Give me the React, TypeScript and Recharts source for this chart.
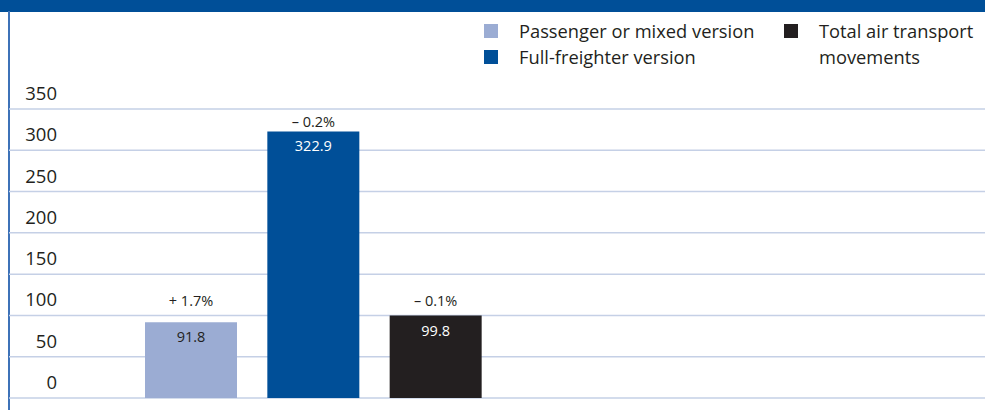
import React from "react";
import {
  BarChart,
  Bar,
  XAxis,
  YAxis,
  CartesianGrid,
  Cell,
  LabelList,
  Legend,
} from "recharts";

// chart values
const categories = [
  "Passenger or mixed version",
  "Full-freighter version",
  "Total air transport movements",
];
const values = [91.8, 322.9, 99.8];
const changes = ["+ 1.7%", "– 0.2%", "– 0.1%"];
const yTicks = [0, 50, 100, 150, 200, 250, 300, 350];

const COLORS = ["#9bacd3", "#004f98", "#231f20"];
const LABEL_COLORS = ["#231f20", "#ffffff", "#ffffff"];
const TEXT = "#231f20";
const FONT = "'Open Sans', 'Noto Sans', sans-serif";

const data = categories.map((name, i) => ({
  name,
  value: values[i],
  change: changes[i],
}));

// tick labels sit above their grid line, right-aligned
const YTick = (props: any) => {
  const { y, payload } = props;
  return (
    <text
      x={57}
      y={y - 9}
      textAnchor="end"
      fontSize={18.5}
      fill={TEXT}
      fontFamily={FONT}
    >
      {payload.value}
    </text>
  );
};

const ValueLabel = (props: any) => {
  const { x, y, width, index, value } = props;
  return (
    <text
      x={x + width / 2}
      y={y + 20}
      textAnchor="middle"
      fontSize={14.5}
      fill={LABEL_COLORS[index]}
      fontFamily={FONT}
    >
      {value}
    </text>
  );
};

// short bars get their label lined up just above the 100 line
const ChangeLabel = (props: any) => {
  const { x, y, width, height, index, value } = props;
  const unit = height / values[index];
  const line100 = y + height - 100 * unit;
  const base = Math.min(y - 4, line100 - 9);
  return (
    <text
      x={x + width / 2}
      y={base}
      textAnchor="middle"
      fontSize={14.5}
      fill={TEXT}
      fontFamily={FONT}
    >
      {value}
    </text>
  );
};

const LegendItem = ({ i, textWidth }: { i: number; textWidth?: number }) => (
  <div style={{ display: "flex", alignItems: "flex-start" }}>
    <span
      style={{
        width: 14,
        height: 14,
        marginTop: 6,
        marginRight: 21,
        background: COLORS[i],
        flex: "none",
      }}
    />
    <span style={{ width: textWidth }}>{categories[i]}</span>
  </div>
);

const LegendContent = () => (
  <div
    style={{
      display: "flex",
      fontFamily: FONT,
      fontSize: 18.3,
      lineHeight: "26px",
      color: TEXT,
      textAlign: "left",
    }}
  >
    <div style={{ width: 303 }}>
      <LegendItem i={0} />
      <LegendItem i={1} />
    </div>
    <div>
      <LegendItem i={2} textWidth={166} />
    </div>
  </div>
);

export default function App() {
  return (
    <div
      style={{
        position: "absolute",
        left: 0,
        top: 0,
        width: 985,
        height: 410,
        background: "#fff",
        overflow: "hidden",
      }}
    >
      <div
        style={{
          position: "absolute",
          left: 0,
          top: 0,
          width: 985,
          height: 11.5,
          background: "#004f98",
        }}
      />
      <div
        style={{
          position: "absolute",
          left: 7.5,
          top: 11,
          width: 2,
          height: 399,
          background: "#3d72b8",
        }}
      />
      <BarChart
        width={985}
        height={410}
        data={data}
        margin={{ top: 109, right: 0, bottom: 12, left: 0 }}
      >
        <CartesianGrid
          vertical={false}
          stroke="#c5d0e6"
          strokeWidth={1.5}
        />
        <XAxis
          dataKey="name"
          type="category"
          hide
          padding={{ left: 121, right: 488 }}
        />
        <YAxis
          domain={[0, 350]}
          ticks={yTicks}
          interval={0}
          width={9}
          axisLine={false}
          tickLine={false}
          tick={<YTick />}
        />
        <Legend
          layout="horizontal"
          verticalAlign="middle"
          align="center"
          content={<LegendContent />}
          wrapperStyle={{ top: 18, left: 484, width: 501 }}
        />
        <Bar dataKey="value" barSize={92} isAnimationActive={false}>
          {data.map((entry, i) => (
            <Cell key={entry.name} fill={COLORS[i]} />
          ))}
          <LabelList dataKey="value" content={<ValueLabel />} />
          <LabelList dataKey="change" content={<ChangeLabel />} />
        </Bar>
      </BarChart>
    </div>
  );
}
